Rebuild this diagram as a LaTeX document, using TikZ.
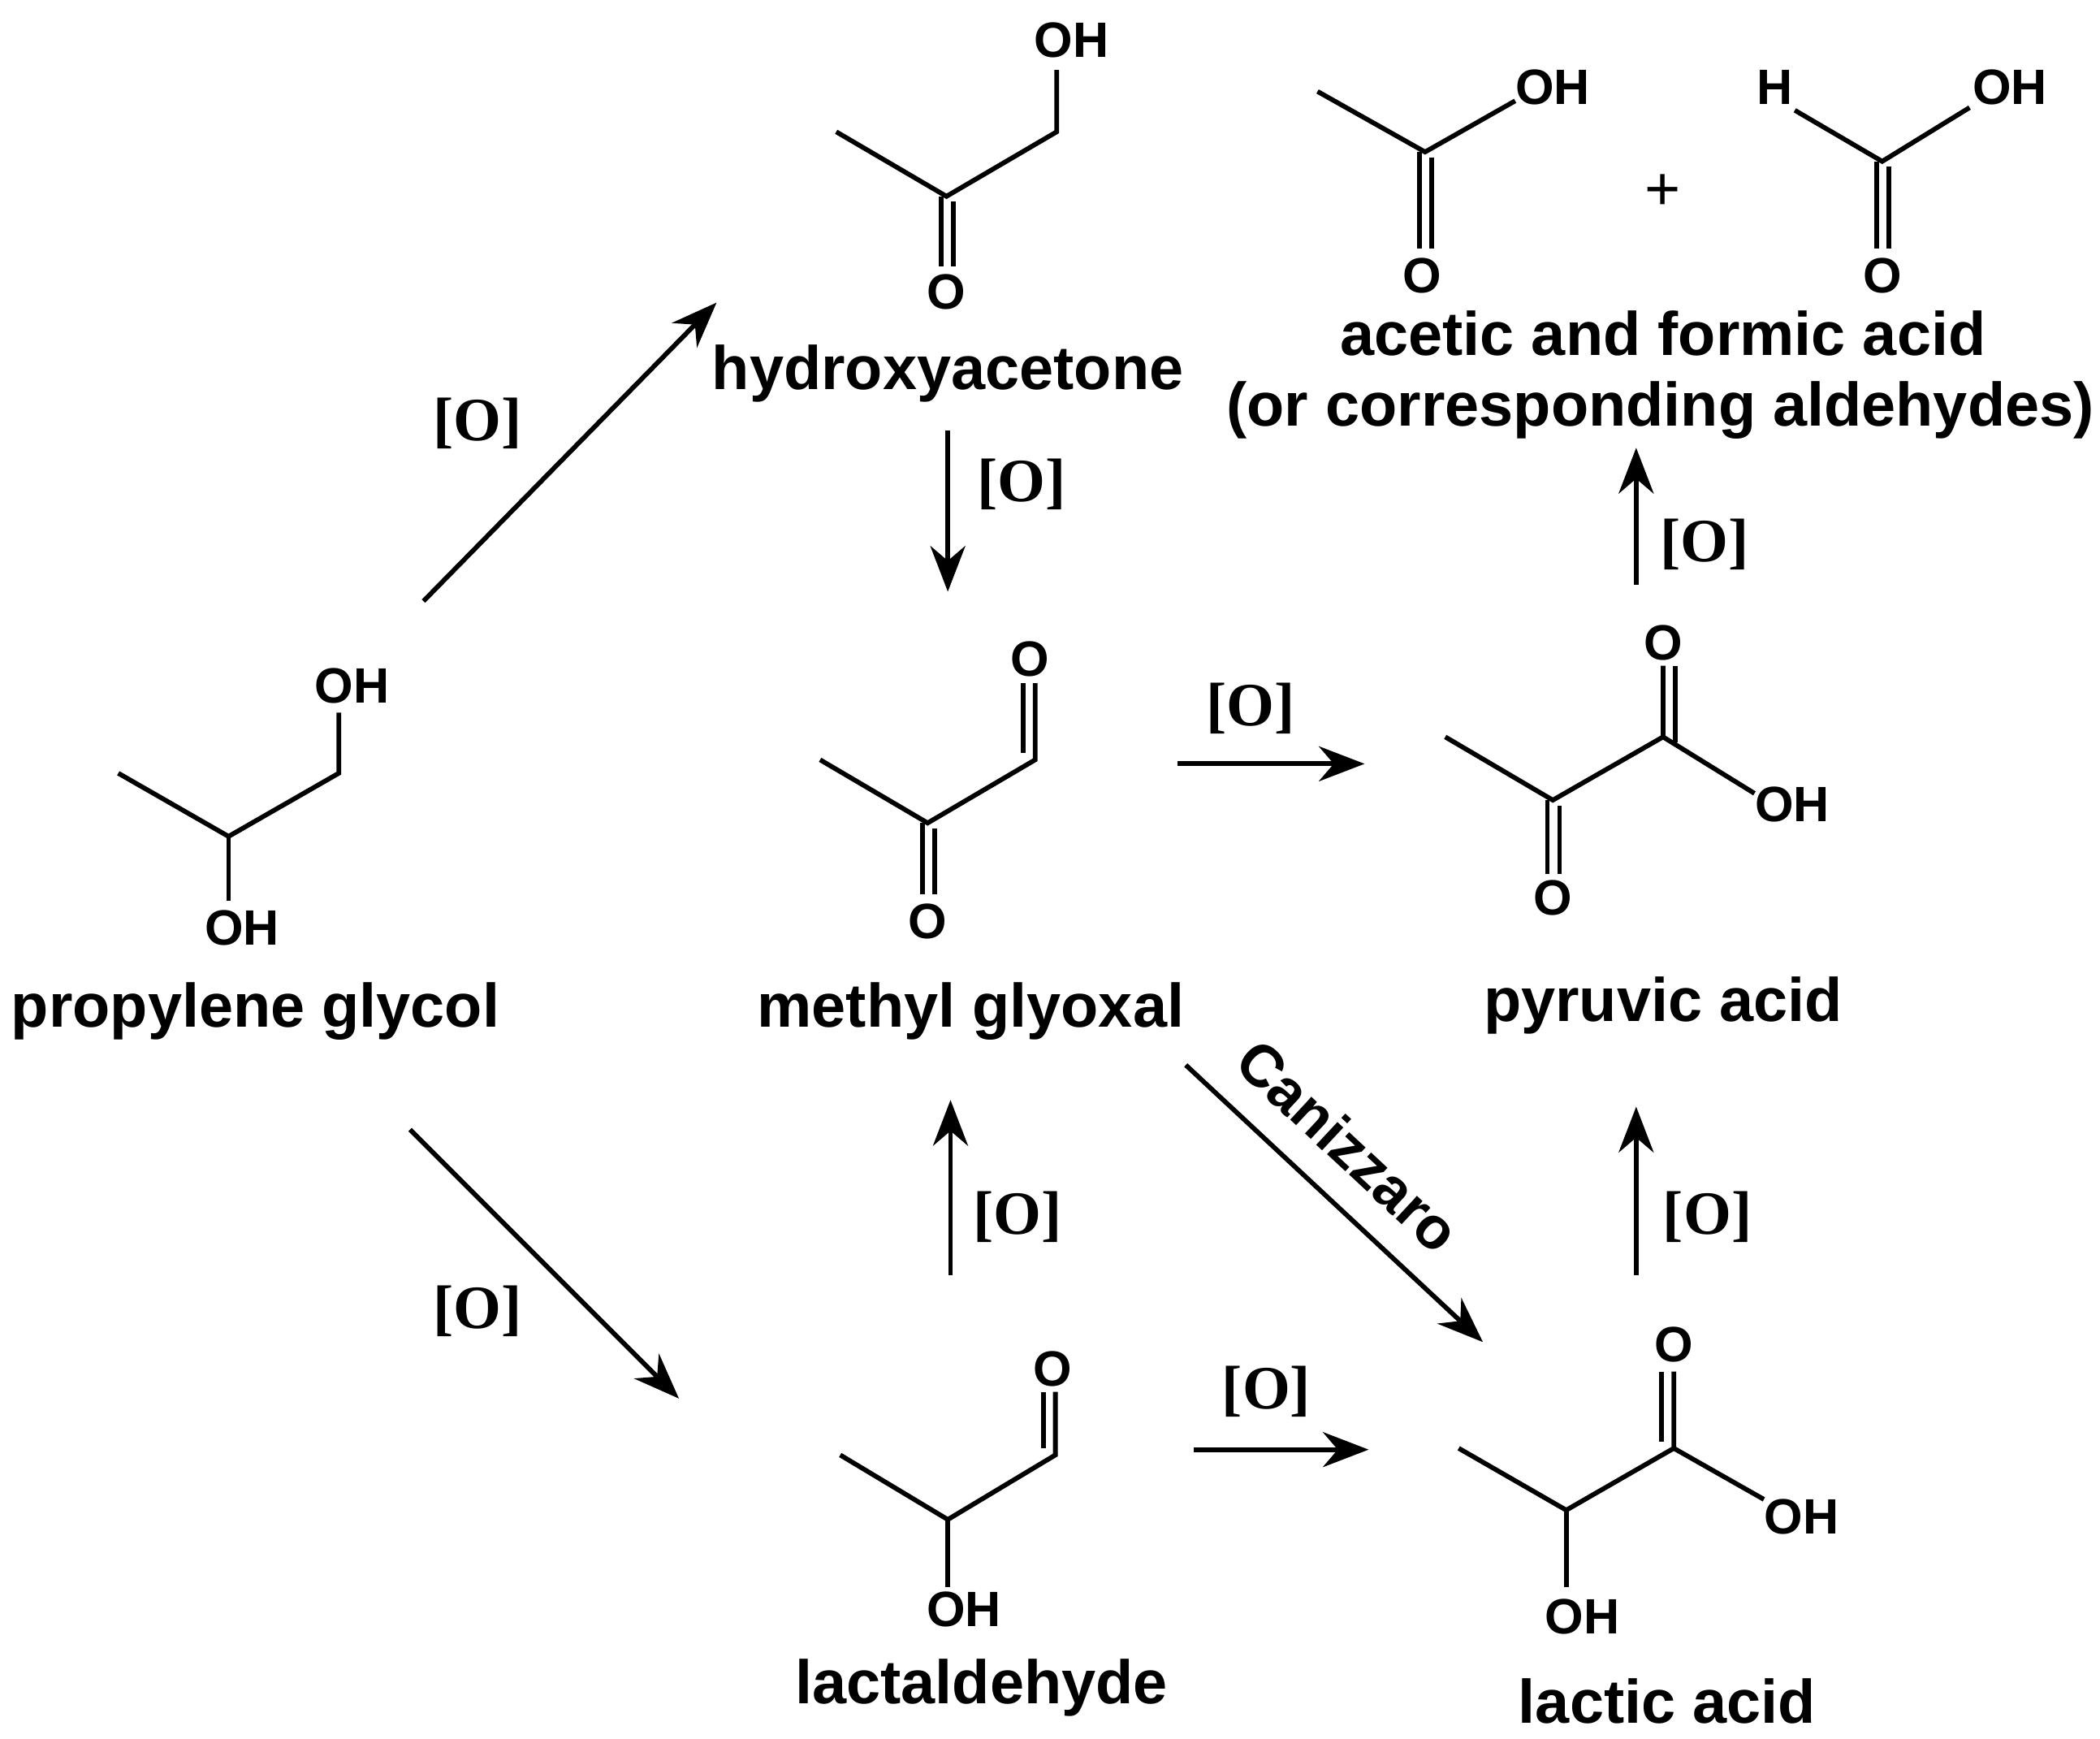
\documentclass[tikz,border=0pt]{standalone}
\usepackage{fontspec}
\setmainfont{Liberation Sans}
\newfontfamily\serifb{Liberation Serif}
\usetikzlibrary{arrows.meta}
\begin{document}
\begin{tikzpicture}[x=0.01cm,y=-0.01cm,
  bond/.style={line width=1pt},
  rxn/.style={line width=1pt,-{Stealth[length=3.4mm,width=2.6mm]}},
  atom/.style={font=\fontsize{10.5}{12}\selectfont\bfseries,inner sep=0pt},
  lbl/.style={font=\fontsize{13}{15}\selectfont\bfseries,inner sep=0pt},
  ox/.style={font=\serifb\fontsize{13}{15}\selectfont\bfseries,inner sep=0pt}]
\useasboundingbox (0,0) rectangle (1562,1293);
% propylene glycol
\draw[bond] (88,575) -- (170,622) -- (252,575) -- (252,530);
\draw[bond] (170,622) -- (170,670);
\node[atom] (pg1) at (262,510) {OH};
\node[atom] (pg2) at (180,690) {OH};
\node[lbl] (pg) at (190,752) {propylene glycol};
% hydroxyacetone
\draw[bond] (622,98) -- (704,146) -- (786,98) -- (786,52);
\draw[bond] (700,146) -- (700,198); \draw[bond] (709,150) -- (709,198);
\node[atom] (ha1) at (797,30) {OH};
\node[atom] (ha2) at (704,217) {O};
\node[lbl] (ha) at (705,278) {hydroxyacetone};
% methyl glyoxal
\draw[bond] (610,565) -- (690,612) -- (770,565) -- (770,508);
\draw[bond] (761,560) -- (761,508);
\draw[bond] (686,612) -- (686,665); \draw[bond] (695,616) -- (695,665);
\node[atom] (mg1) at (766,490) {O};
\node[atom] (mg2) at (690,685) {O};
\node[lbl] (mg) at (722,752) {methyl glyoxal};
% pyruvic acid
\draw[bond] (1075,548) -- (1155,595) -- (1237,548) -- (1237,495);
\draw[bond] (1246,552) -- (1246,495);
\draw[bond] (1237,548) -- (1305,590);
\draw[bond] (1151,595) -- (1151,650); \draw[bond] (1160,599) -- (1160,650);
\node[atom] (pa1) at (1237,478) {O};
\node[atom] (pa2) at (1333,598) {OH};
\node[atom] (pa3) at (1155,668) {O};
\node[lbl] (pa) at (1237,748) {pyruvic acid};
% lactaldehyde
\draw[bond] (625,1082) -- (705,1130) -- (785,1082) -- (785,1035);
\draw[bond] (776,1077) -- (776,1035);
\draw[bond] (705,1130) -- (705,1180);
\node[atom] (la1) at (783,1018) {O};
\node[atom] (la2) at (717,1197) {OH};
\node[lbl] (la) at (730,1255) {lactaldehyde};
% lactic acid
\draw[bond] (1085,1077) -- (1165,1123) -- (1245,1077) -- (1245,1020);
\draw[bond] (1236,1072) -- (1236,1020);
\draw[bond] (1245,1077) -- (1312,1115);
\draw[bond] (1165,1123) -- (1165,1180);
\node[atom] (lc1) at (1245,1000) {O};
\node[atom] (lc2) at (1340,1128) {OH};
\node[atom] (lc3) at (1177,1202) {OH};
\node[lbl] (lc) at (1240,1265) {lactic acid};
% acetic and formic
\draw[bond] (980,68) -- (1060,113) -- (1127,75);
\draw[bond] (1056,113) -- (1056,185); \draw[bond] (1065,117) -- (1065,185);
\node[atom] (ac1) at (1155,65) {OH};
\node[atom] (ac2) at (1058,205) {O};
\node[atom] (fo1) at (1320,65) {H};
\draw[bond] (1335,82) -- (1400,120) -- (1465,80);
\draw[bond] (1396,120) -- (1396,185); \draw[bond] (1405,124) -- (1405,185);
\node[atom] (fo2) at (1495,65) {OH};
\node[atom] (fo3) at (1400,205) {O};
\node[font=\fontsize{13}{15}\selectfont] (plus) at (1237,143) {+};
\node[lbl] (af) at (1237,248) {acetic and formic acid};
\node[lbl] (af2) at (1235,305) {(or corresponding aldehydes)};
% arrows
\coordinate (a1s) at (315,447); \coordinate (a1e) at (533,225);
\draw[rxn] (a1s) -- (a1e); \node[ox] at (355,315) {[O]};
\coordinate (a2s) at (705,320); \coordinate (a2e) at (705,440);
\draw[rxn] (a2s) -- (a2e); \node[ox] at (760,360) {[O]};
\coordinate (a3s) at (876,568); \coordinate (a3e) at (1015,568);
\draw[rxn] (a3s) -- (a3e); \node[ox] at (930,527) {[O]};
\coordinate (a4s) at (1217,435); \coordinate (a4e) at (1217,333);
\draw[rxn] (a4s) -- (a4e); \node[ox] at (1268,405) {[O]};
\coordinate (a5s) at (305,840); \coordinate (a5e) at (505,1040);
\draw[rxn] (a5s) -- (a5e); \node[ox] at (355,975) {[O]};
\coordinate (a6s) at (707,948); \coordinate (a6e) at (707,818);
\draw[rxn] (a6s) -- (a6e); \node[ox] at (757,905) {[O]};
\coordinate (a7s) at (888,1078); \coordinate (a7e) at (1018,1078);
\draw[rxn] (a7s) -- (a7e); \node[ox] at (942,1035) {[O]};
\coordinate (a8s) at (1217,948); \coordinate (a8e) at (1217,823);
\draw[rxn] (a8s) -- (a8e); \node[ox] at (1270,905) {[O]};
\coordinate (a9s) at (882,792); \coordinate (a9e) at (1103,998);
\draw[rxn] (a9s) -- (a9e);
\node[font=\fontsize{12.5}{15}\selectfont\bfseries,rotate=-43,inner sep=0pt] at (1003,852) {Canizzaro};
\end{tikzpicture}
\end{document}
